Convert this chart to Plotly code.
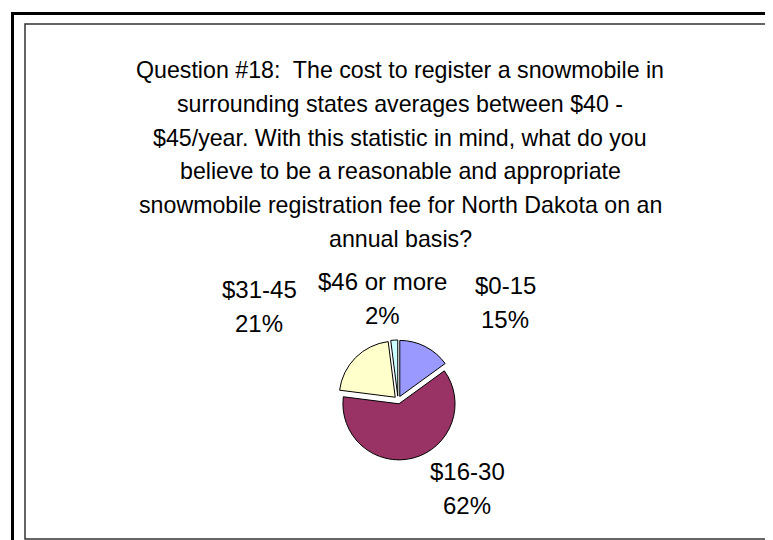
import plotly.graph_objects as go

# Data
categories = ["$0-15", "$16-30", "$31-45", "$46 or more"]
values = [15, 62, 21, 2]
colors = ["#9999FF", "#993366", "#FFFFCC", "#CCFFFF"]
title_lines = [
    "Question #18:  The cost to register a snowmobile in",
    "surrounding states averages between $40 -",
    "$45/year. With this statistic in mind, what do you",
    "believe to be a reasonable and appropriate",
    "snowmobile registration fee for North Dakota on an",
    "annual basis?",
]
# label anchor positions (px): x centre, y centre of category line, y centre of percent line
label_pos = {
    "$0-15": (497, 277, 311),
    "$16-30": (459, 463, 497),
    "$31-45": (251, 281, 315),
    "$46 or more": (374, 273, 307),
}

W, H = 773, 540
FONT = "Liberation Sans, Arial, sans-serif"
FS = 23.2
LFS = 24

fig = go.Figure()
cx, cy, r = 390, 392, 60
fig.add_trace(go.Pie(
    labels=categories,
    values=values,
    sort=False,
    direction="clockwise",
    rotation=0,
    pull=[0.07, 0.07, 0.07, 0.07],
    marker=dict(colors=colors, line=dict(color="black", width=1)),
    textinfo="none",
    showlegend=False,
    hoverinfo="label+percent",
    domain=dict(x=[(cx - r) / W, (cx + r) / W], y=[1 - (cy + r) / H, 1 - (cy - r) / H]),
))

for cat, val in zip(categories, values):
    px, py1, py2 = label_pos[cat]
    for txt, yy in ((cat, py1), (f"{val}%", py2)):
        fig.add_annotation(
            x=px / W, y=1 - yy / H, xref="paper", yref="paper",
            text=txt, showarrow=False, xanchor="center", yanchor="middle",
            font=dict(family=FONT, size=LFS, color="black"),
        )

# Title as separate lines
y0 = 62
step = 33.8
for i, line in enumerate(title_lines):
    fig.add_annotation(
        x=392 / W, y=1 - (y0 + i * step) / H, xref="paper", yref="paper",
        text=line, showarrow=False, xanchor="center", yanchor="middle",
        font=dict(family=FONT, size=FS, color="black"),
    )

# Frames
fig.add_shape(type="line", xref="paper", yref="paper",
              x0=3 / W, y0=1 - 5.5 / H, x1=1, y1=1 - 5.5 / H,
              line=dict(color="black", width=3))
fig.add_shape(type="line", xref="paper", yref="paper",
              x0=4.5 / W, y0=1 - 4 / H, x1=4.5 / W, y1=0,
              line=dict(color="black", width=3))
fig.add_shape(type="rect", xref="paper", yref="paper",
              x0=17 / W, y0=1 - 531 / H, x1=771 / W, y1=1 - 16 / H,
              line=dict(color="#333333", width=1.5))

fig.update_layout(
    width=W, height=H,
    margin=dict(l=0, r=0, t=0, b=0),
    paper_bgcolor="white",
    plot_bgcolor="white",
    font=dict(family=FONT),
)

fig.write_html("out.html")
